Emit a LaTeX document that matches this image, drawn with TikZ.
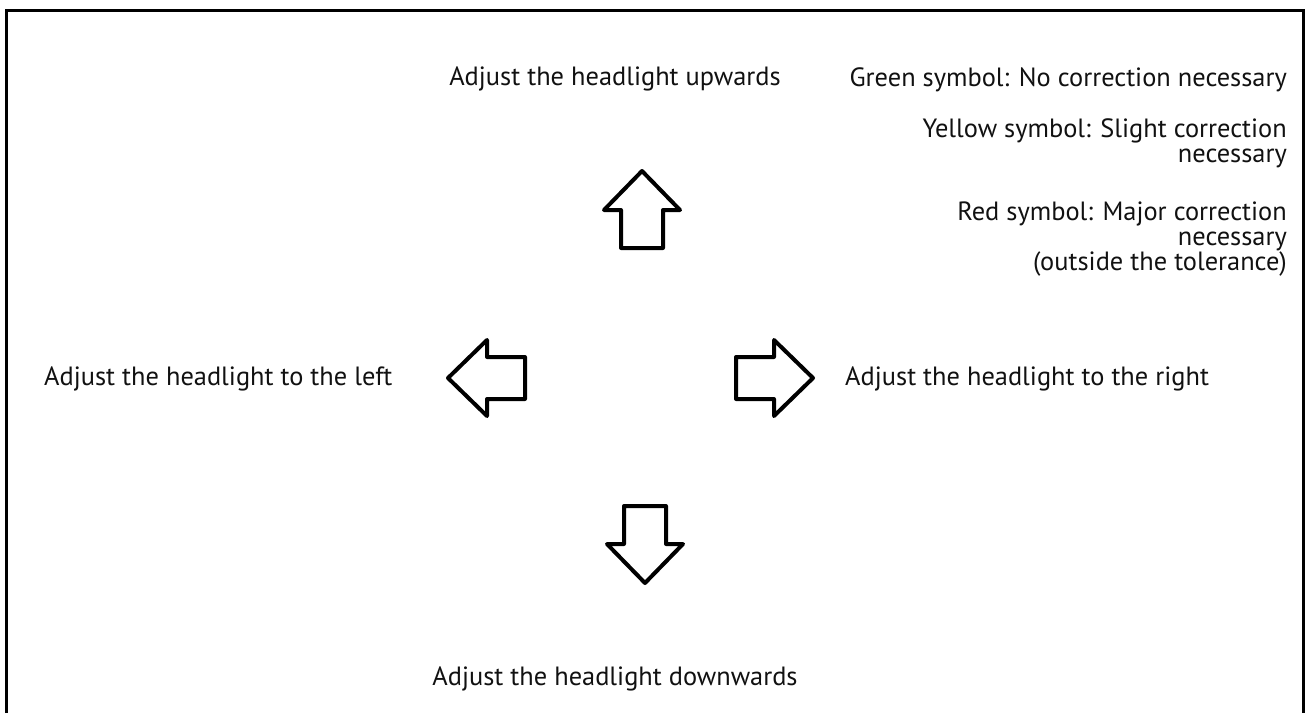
\documentclass[tikz,border=0pt]{standalone}
\usepackage{fontspec}
\setmainfont{PT Sans}
\usepackage{xcolor}
\usepackage{tikz}
\usetikzlibrary{positioning,calc}
\definecolor{mInk}{HTML}{111111}
\tikzset{
  lbl/.style={font=\fontsize{26.4}{25}\selectfont, text=mInk, inner sep=0pt},
  blockarrow/.style={draw=black, line width=4pt, line join=round, fill=white}
}

\begin{document}
\begin{tikzpicture}[x=1pt,y=-1pt]
\useasboundingbox (0,0) rectangle (1306,713);
\draw[line width=3pt] (6,713) -- (6,10) -- (1303,10) -- (1303,713);

% direction labels
\node[lbl,anchor=base] (lblUp) at (615,85) {Adjust the headlight upwards};
\node[lbl,anchor=base west] (lblLeft) at (44,385) {Adjust the headlight to the left};
\node[lbl,anchor=base west] (lblRight) at (845,385) {Adjust the headlight to the right};
\node[lbl,anchor=base] (lblDown) at (615,685) {Adjust the headlight downwards};

% colour notes (base = last line)
\node[lbl,anchor=base east] (noteGreen) at (1287,86) {Green symbol: No correction necessary};
\node[lbl,anchor=base east,align=right] (noteYellow) at (1287,162)
  {Yellow symbol: Slight correction\\necessary};
\node[lbl,anchor=base east,align=right] (noteRed) at (1287,270)
  {Red symbol: Major correction\\necessary\\(outside the tolerance)};

% block arrows (tip x/y, rotation)
\foreach \tx/\ty/\ang in {642/171/0, 645/583/180, 448/378/90, 813/378/-90} {
  \draw[blockarrow,shift={(\tx,\ty)},rotate=\ang]
    (0,0) -- (38,39) -- (21,39) -- (21,77) -- (-21,77) -- (-21,39) -- (-38,39) -- cycle;
}
\end{tikzpicture}
\end{document}
